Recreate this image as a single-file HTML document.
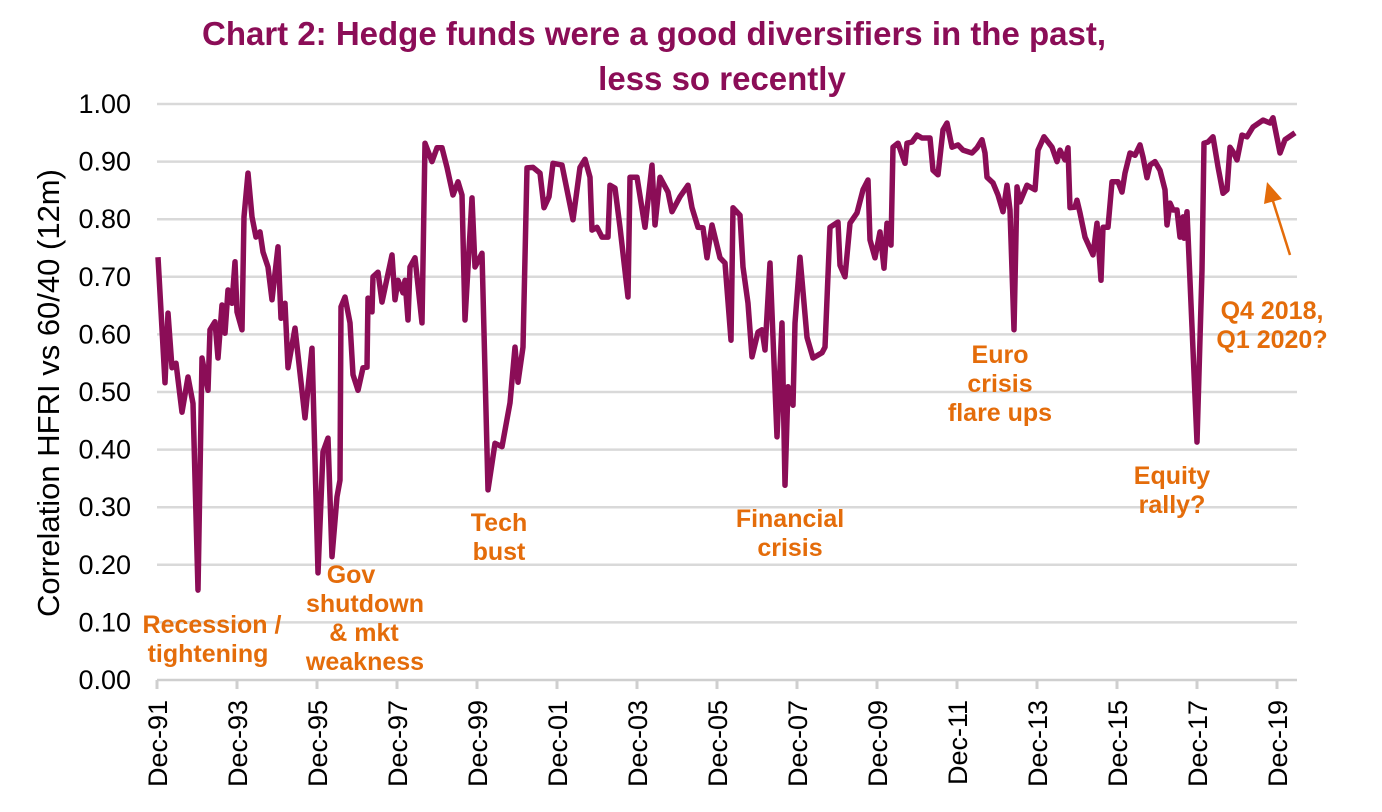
<!DOCTYPE html>
<html><head><meta charset="utf-8"><style>
body{margin:0;background:#fff;}
svg{display:block;font-family:"Liberation Sans",Arial,sans-serif;}
</style></head><body>
<svg id="chart" width="1382" height="812" viewBox="0 0 1382 812">
<text x="654" y="45" text-anchor="middle" font-size="33" font-weight="bold" fill="#8B0D57">Chart 2: Hedge funds were a good diversifiers in the past,</text>
<text x="722" y="90" text-anchor="middle" font-size="33" font-weight="bold" fill="#8B0D57">less so recently</text>
<text transform="translate(59,393) rotate(-90)" text-anchor="middle" font-size="31" fill="#000">Correlation HFRI vs 60/40 (12m)</text>
<g id="grid"></g><g id="yticks"></g><g id="xticks"></g>
<path id="series" fill="none" stroke="#8B0D57" stroke-width="5.5" stroke-linejoin="round"/>
<g font-size="25" font-weight="bold" fill="#E46C0A" text-anchor="middle">
<text><tspan x="212" y="633">Recession /</tspan><tspan x="208" y="662">tightening</tspan></text>
<text><tspan x="351" y="583">Gov</tspan><tspan x="365" y="612">shutdown</tspan><tspan x="364" y="641">&amp; mkt</tspan><tspan x="365" y="670">weakness</tspan></text>
<text><tspan x="499" y="531">Tech</tspan><tspan x="499" y="560">bust</tspan></text>
<text><tspan x="790" y="527">Financial</tspan><tspan x="790" y="556">crisis</tspan></text>
<text><tspan x="1000" y="363">Euro</tspan><tspan x="1000" y="392">crisis</tspan><tspan x="1000" y="421">flare ups</tspan></text>
<text><tspan x="1172" y="484">Equity</tspan><tspan x="1172" y="513">rally?</tspan></text>
<text><tspan x="1272" y="319">Q4 2018,</tspan><tspan x="1272" y="348">Q1 2020?</tspan></text>
</g>
<line x1="1290" y1="255" x2="1272" y2="198" stroke="#E46C0A" stroke-width="2.5"/>
<polygon points="1267,182 1264,204 1282,199" fill="#E46C0A"/>
</svg>
<script>
const months=[0.3,2.4,3.3,4.5,5.7,7.5,9.3,10.8,12.3,13.5,15.3,15.9,17.4,18.3,19.5,20.4,21.3,22.5,23.4,24,25.5,26.1,27.3,28.5,29.7,30.9,31.8,33.3,34.5,36.3,37.2,38.4,39.3,41.4,44.4,46.5,48.3,49.8,51.3,52.5,54,54.9,55.2,56.4,57.9,58.8,60.3,61.8,63,63.3,64.5,64.8,66.3,67.5,70.5,71.4,72.3,73.8,74.4,75.3,75.9,77.4,79.5,80.4,82.5,84,85.5,87,88.8,90.3,91.5,92.4,94.5,95.4,97.5,99.3,101.4,103.5,105.9,107.4,108.3,109.8,111,112.8,114.9,116.1,117.6,118.8,121.5,124.8,126.9,128.4,129.9,130.5,132,133.5,135.3,135.9,137.4,138.9,141.3,141.9,144,146.4,148.5,149.4,150.9,153.3,154.5,156.9,159.3,160.5,162.3,163.8,165,166.5,168.9,170.4,172.2,172.8,174.9,175.8,177.3,178.5,180.3,181.5,182.4,183.9,186,187.5,188.4,189.3,190.8,191.4,192.9,195,196.8,199.5,200.4,201.9,204.3,204.9,206.4,207.9,210,211.8,213.3,213.9,215.4,216.9,218.1,219,220.2,220.8,222.3,224.4,225,226.5,228,229.5,231.9,232.8,234.3,235.8,237,238.5,240.3,241.8,244.5,246,247.5,248.4,249,250.8,252.3,253.8,255,255.9,257.1,258,258.9,261,263.4,264.3,266.1,268.5,270,270.9,272.4,273.3,273.9,275.4,276,276.9,278.4,280.8,282,283.2,283.8,285.3,286.5,288.3,289.5,290.4,291.9,293.4,294.9,295.8,297,297.9,299.4,300.9,302.4,303,303.9,304.8,306,306.9,307.8,308.1,309,310.5,312,313.5,314.1,315.3,316.8,318.3,319.8,321,321.9,322.8,324,325.5,327,328.8,331.8,333.9,334.8,336.9,338.4,341.4];
const values=[0.734,0.516,0.637,0.542,0.55,0.465,0.526,0.48,0.156,0.559,0.503,0.608,0.622,0.559,0.651,0.602,0.677,0.654,0.726,0.639,0.608,0.804,0.88,0.804,0.769,0.778,0.743,0.717,0.66,0.752,0.628,0.654,0.542,0.611,0.455,0.576,0.186,0.396,0.42,0.214,0.318,0.347,0.648,0.665,0.62,0.53,0.503,0.542,0.543,0.663,0.639,0.7,0.708,0.656,0.738,0.66,0.694,0.672,0.694,0.625,0.717,0.733,0.62,0.932,0.9,0.924,0.924,0.89,0.842,0.865,0.842,0.625,0.837,0.717,0.741,0.33,0.411,0.405,0.481,0.578,0.517,0.578,0.889,0.89,0.88,0.82,0.839,0.897,0.894,0.799,0.89,0.904,0.873,0.781,0.786,0.769,0.769,0.859,0.854,0.786,0.665,0.873,0.873,0.786,0.894,0.79,0.873,0.847,0.813,0.839,0.859,0.82,0.786,0.785,0.733,0.79,0.733,0.724,0.59,0.82,0.807,0.717,0.654,0.561,0.604,0.608,0.573,0.724,0.422,0.62,0.338,0.509,0.477,0.62,0.734,0.595,0.559,0.568,0.578,0.786,0.795,0.72,0.7,0.793,0.811,0.851,0.868,0.764,0.733,0.778,0.715,0.793,0.755,0.925,0.932,0.897,0.932,0.934,0.946,0.941,0.941,0.885,0.877,0.955,0.967,0.925,0.929,0.92,0.915,0.924,0.938,0.915,0.873,0.863,0.842,0.813,0.859,0.816,0.608,0.856,0.83,0.859,0.851,0.92,0.943,0.925,0.9,0.92,0.903,0.924,0.82,0.821,0.833,0.811,0.769,0.738,0.793,0.694,0.786,0.786,0.865,0.865,0.847,0.88,0.915,0.911,0.929,0.908,0.872,0.894,0.9,0.885,0.851,0.79,0.828,0.816,0.816,0.769,0.804,0.767,0.813,0.613,0.413,0.712,0.932,0.934,0.943,0.891,0.845,0.851,0.925,0.917,0.903,0.946,0.943,0.96,0.972,0.967,0.976,0.915,0.938,0.95];
const yTickValues=[0,0.1,0.2,0.3,0.4,0.5,0.6,0.7,0.8,0.9,1.0];
const xTickLabels=["Dec-91","Dec-93","Dec-95","Dec-97","Dec-99","Dec-01","Dec-03","Dec-05","Dec-07","Dec-09","Dec-11","Dec-13","Dec-15","Dec-17","Dec-19"];
const xTickMonths=[0,24,48,72,96,120,144,168,192,216,240,264,288,312,336];
const NS="http://www.w3.org/2000/svg";
const X0=157,X1=1297,Y0=680,Y1=104;
function xScale(m){return X0+m*10/3;}
function yScale(v){return Y0-(v)*(Y0-Y1);}
const grid=document.getElementById('grid'),yt=document.getElementById('yticks'),xt=document.getElementById('xticks');
yTickValues.forEach(v=>{
 const l=document.createElementNS(NS,'line');
 
 
 l.setAttribute('x1',X0);l.setAttribute('x2',X1);l.setAttribute('y1',yScale(v));l.setAttribute('y2',yScale(v));
 l.setAttribute('stroke',v===0?'#cfcfcf':'#d9d9d9');l.setAttribute('stroke-width','2.5');
 grid.appendChild(l);
 const t=document.createElementNS(NS,'text');
 
 
 t.setAttribute('x',131);t.setAttribute('y',yScale(v)+9);t.setAttribute('text-anchor','end');t.setAttribute('font-size','27');
 t.textContent=v.toFixed(2);yt.appendChild(t);
});
xTickLabels.forEach((lab,i)=>{
 const x=xScale(xTickMonths[i]);
 const tk=document.createElementNS(NS,'line');
 
 
 tk.setAttribute('x1',x);tk.setAttribute('x2',x);tk.setAttribute('y1',Y0);tk.setAttribute('y2',Y0+9);tk.setAttribute('stroke','#cfcfcf');tk.setAttribute('stroke-width','3');
 xt.appendChild(tk);
 const t=document.createElementNS(NS,'text');
 
 
 t.setAttribute('transform','translate('+(x+10)+','+(Y0+20)+') rotate(-90)');
 t.setAttribute('text-anchor','end');t.setAttribute('font-size','27');
 t.textContent=lab;xt.appendChild(t);
});
let d='';
months.forEach((m,i)=>{d+=(i?'L':'M')+xScale(m).toFixed(1)+','+yScale(values[i]).toFixed(1);});
document.getElementById('series').setAttribute('d',d);
</script>
</body></html>
